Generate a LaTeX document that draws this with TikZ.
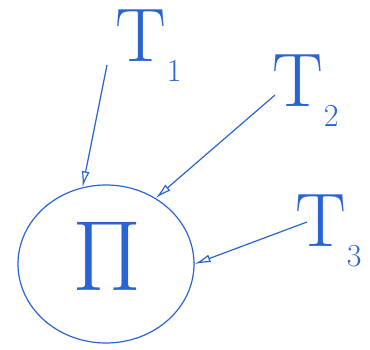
\RequirePackage{fix-cm}
\documentclass[tikz,border=0pt]{standalone}
\usepackage{amsmath}
\usepackage{tikz}
\usetikzlibrary{arrows.meta,positioning,shapes.geometric}
\definecolor{penblue}{HTML}{2A63D4}
\newcommand{\tsub}[1]{T\kern1pt\raisebox{-20pt}{\fontsize{32}{32}\selectfont #1}}

\begin{document}
\begin{tikzpicture}[x=1pt,y=-1pt,
		ink/.style={draw=penblue,line width=1.2pt},
		tlabel/.style={text=penblue,font=\fontsize{76}{76}\selectfont,inner sep=0pt,anchor=north west},
		feed/.style={ink,-{Latex[length=16pt,width=8pt,open]}}]
			\useasboundingbox (0,0) rectangle (370,350);
			\node[ellipse,ink,minimum width=176pt,minimum height=158pt] (circ) at (106,264) {};
			\node[text=penblue,font=\fontsize{100}{100}\selectfont,inner sep=0pt] (pi) at (107,256) {$\Pi$};
			\node[tlabel] (tone) at (115,10) {\tsub{1}};
			\node[tlabel] (ttwo) at (272,55) {\tsub{2}};
			\node[tlabel] (tthree) at (295,195) {\tsub{3}};
			\coordinate (sone) at (107,65);
			\coordinate (stwo) at (275,95);
			\coordinate (sthree) at (307,222);
			\draw[feed] (sone) -- (circ.107);
			\draw[feed] (stwo) -- (circ.53);
			\draw[feed] (sthree) -- (circ.0);
		\end{tikzpicture}
\end{document}
